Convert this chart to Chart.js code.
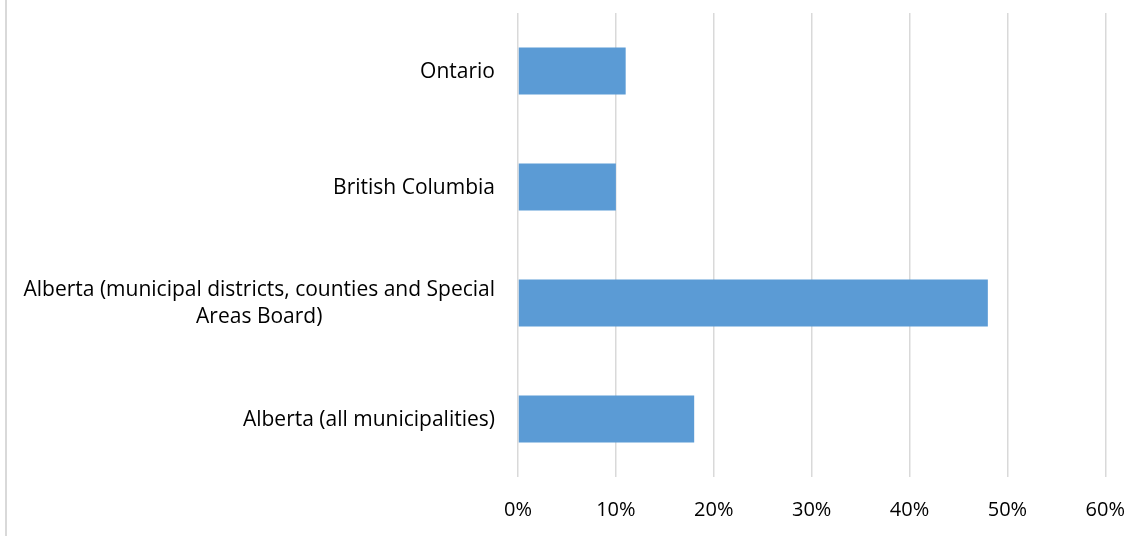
<!DOCTYPE html>
<html>
<head>
<meta charset="utf-8">
<script src="https://cdn.jsdelivr.net/npm/chart.js@4/dist/chart.umd.min.js"></script>
<style>
  html, body { margin: 0; padding: 0; background: #fff; }
  #wrap { position: relative; width: 1146px; height: 536px; }
  #frame { position: absolute; left: 5px; top: 0; width: 2px; height: 536px; background: #d9d9d9; }
  canvas { position: absolute; left: 0; top: 0; }
</style>
</head>
<body>
<div id="wrap">
  <canvas id="chart" width="1146" height="536"></canvas>
  <div id="frame"></div>
</div>
<script>
// --- data ---
const categories = [
  ['Ontario'],
  ['British Columbia'],
  ['Alberta (municipal districts, counties and Special', 'Areas Board)'],
  ['Alberta (all municipalities)']
];
const shares = [11, 10, 48, 18];
const tickValues = [0, 10, 20, 30, 40, 50, 60];

const FONT = '"Open Sans", Lato, sans-serif';
const LABEL_SIZE = 21;
const TICK_SIZE = 20;

// Excel-like category labels: block right-aligned, lines centred inside it
const categoryLabels = {
  id: 'categoryLabels',
  afterDraw(chart) {
    const ctx = chart.ctx;
    const y = chart.scales.y;
    const right = chart.chartArea.left - 23;
    const lineH = 27;
    ctx.save();
    ctx.font = LABEL_SIZE + 'px ' + FONT;
    ctx.fillStyle = '#000';
    ctx.textAlign = 'center';
    ctx.textBaseline = 'middle';
    categories.forEach((lines, i) => {
      const cy = y.getPixelForValue(i) + 1;
      const w = Math.max(...lines.map(l => ctx.measureText(l).width));
      const cx = right - w / 2;
      const top = cy - (lines.length - 1) * lineH / 2;
      lines.forEach((l, k) => ctx.fillText(l, cx, top + k * lineH));
    });
    ctx.restore();
  }
};

new Chart(document.getElementById('chart'), {
  type: 'bar',
  data: {
    labels: categories,
    datasets: [{
      data: shares,
      backgroundColor: '#5b9bd5',
      borderWidth: 0,
      barPercentage: 0.405,
      categoryPercentage: 1
    }]
  },
  options: {
    indexAxis: 'y',
    responsive: false,
    animation: false,
    layout: { padding: { top: 13, right: 31, left: 0, bottom: 0 } },
    plugins: { legend: { display: false }, tooltip: { enabled: false } },
    scales: {
      x: {
        min: 0,
        max: 60,
        afterBuildTicks(scale) { scale.ticks = tickValues.map(v => ({ value: v })); },
        afterFit(scale) { scale.height = 59; },
        border: { display: false },
        grid: { color: '#d9d9d9', lineWidth: 1.5, drawTicks: false },
        ticks: {
          padding: 21,
          color: '#000',
          font: { family: FONT, size: TICK_SIZE },
          callback: v => v + '%'
        }
      },
      y: {
        afterFit(scale) { scale.width = 518; },
        border: { display: false },
        grid: { display: false },
        ticks: { display: false }
      }
    }
  },
  plugins: [categoryLabels]
});
</script>
</body>
</html>
